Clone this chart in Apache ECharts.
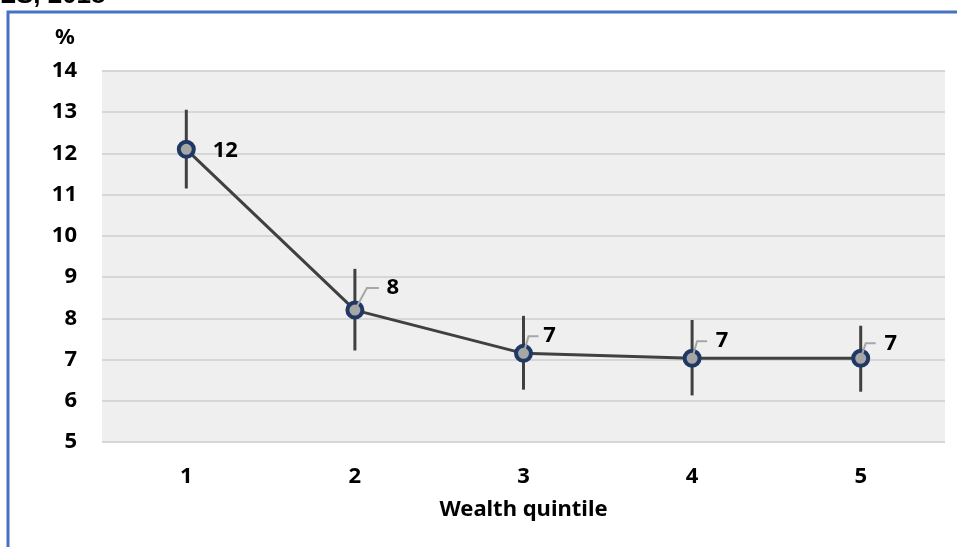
<!DOCTYPE html>
<html>
<head>
<meta charset="utf-8">
<script src="https://cdn.jsdelivr.net/npm/echarts@6/dist/echarts.min.js"></script>
<style>html,body{margin:0;padding:0;background:#fff;}#c{width:957px;height:547px;}</style>
</head>
<body>
<div id="c"></div>
<script>
const categories = ['1', '2', '3', '4', '5'];
const values = [12.1, 8.2, 7.15, 7.03, 7.03];
const lowerCI = [11.15, 7.22, 6.27, 6.13, 6.22];
const upperCI = [13.06, 9.2, 8.06, 7.96, 7.82];
const valueLabels = ['12', '8', '7', '7', '7'];
const yTicks = { min: 5, max: 14, interval: 1 };

const FONT = '"Noto Sans", "Open Sans", sans-serif';
const FS = 22;
const chart = echarts.init(document.getElementById('c'));

// label layout (style, not data): [leader knee dx, knee dy, leader end dx, label dx, label dy, show leader]
const labelLayout = [
  [0, 0, 0, 39, 1, false],
  [12, -22, 24, 38, -22, true],
  [5, -17, 15, 26, -18, true],
  [5, -17, 15, 30, -18, true],
  [5, -15, 15, 30, -15, true]
];

const txt = { fontSize: FS, fontWeight: 'bold', color: '#000', fontFamily: FONT };

chart.setOption({
  animation: false,
  grid: { left: 102, right: 12, top: 71, bottom: 105, show: true, backgroundColor: '#efefef', borderWidth: 0 },
  graphic: [
    { type: 'rect', shape: { x: 8, y: 12, width: 1000, height: 600 }, style: { fill: 'none', stroke: '#4472c4', lineWidth: 3 }, z: 100 },
    { type: 'text', left: 0, top: -17, style: { text: 'LS, 2018', font: 'bold 26px "Liberation Sans", Arial, sans-serif', fill: '#000' } },
    { type: 'text', left: 55, top: 27, style: { text: '%', font: 'bold ' + FS + 'px ' + FONT, fill: '#000' } }
  ],
  xAxis: {
    type: 'category',
    data: categories,
    boundaryGap: true,
    axisLine: { show: false },
    axisTick: { show: false },
    axisLabel: Object.assign({ margin: 24 }, txt),
    name: 'Wealth quintile',
    nameLocation: 'middle',
    nameGap: 57,
    nameTextStyle: txt
  },
  yAxis: {
    type: 'value',
    min: yTicks.min, max: yTicks.max, interval: yTicks.interval,
    axisLine: { show: false },
    axisTick: { show: false },
    axisLabel: Object.assign({ margin: 25 }, txt),
    splitLine: { lineStyle: { color: '#d6d6d6', width: 2 } }
  },
  series: [
    {
      type: 'custom',
      name: 'ci',
      data: categories.map((c, i) => [i, lowerCI[i], upperCI[i]]),
      renderItem: function (params, api) {
        const lo = api.coord([api.value(0), api.value(1)]);
        const hi = api.coord([api.value(0), api.value(2)]);
        return { type: 'line', shape: { x1: lo[0], y1: lo[1], x2: hi[0], y2: hi[1] }, style: { stroke: '#404040', lineWidth: 3 } };
      },
      z: 2
    },
    {
      type: 'line',
      data: values,
      lineStyle: { color: '#404040', width: 3 },
      symbol: 'circle',
      symbolSize: 15,
      itemStyle: { color: '#a6a6a6', borderColor: '#1f3864', borderWidth: 4 },
      z: 3
    },
    {
      type: 'custom',
      name: 'labels',
      data: categories.map((c, i) => [i, values[i]]),
      renderItem: function (params, api) {
        const i = params.dataIndex;
        const p = api.coord([api.value(0), api.value(1)]);
        const L = labelLayout[i];
        const children = [];
        if (L[5]) {
          children.push({ type: 'polyline', shape: { points: [[p[0], p[1]], [p[0] + L[0], p[1] + L[1]], [p[0] + L[2], p[1] + L[1]]] }, style: { stroke: '#a6a6a6', lineWidth: 2, fill: 'none' } });
        }
        children.push({ type: 'text', x: p[0] + L[3], y: p[1] + L[4], style: { text: valueLabels[i], font: 'bold ' + FS + 'px ' + FONT, fill: '#000', align: 'center', verticalAlign: 'middle' } });
        return { type: 'group', children: children };
      },
      z: 4
    }
  ]
});
</script>
</body>
</html>
